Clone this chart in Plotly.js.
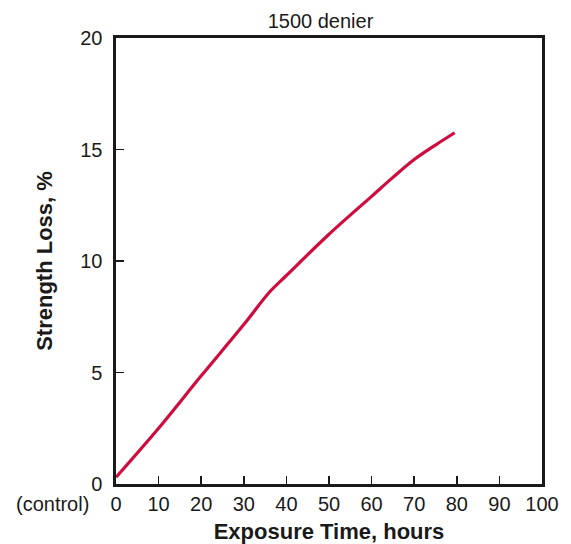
<!DOCTYPE html>
<html>
<head>
<meta charset="utf-8">
<script src="https://cdn.plot.ly/plotly-3.0.1.min.js"></script>
<style>html,body{margin:0;padding:0;background:#fff;}#chart{width:571px;height:544px;}</style>
</head>
<body>
<div id="chart"></div>
<script>
var exposureHours = [0, 10, 20, 30, 36, 40, 50, 60, 65, 70, 75, 79.5];
var strengthLoss = [0.3, 2.5, 4.85, 7.15, 8.6, 9.35, 11.2, 12.9, 13.75, 14.55, 15.2, 15.75];
var xTickVals = [0, 10, 20, 30, 40, 50, 60, 70, 80, 90, 100];
var yTickVals = [0, 5, 10, 15, 20];
var yTickText = ['0', '5', '10', '15', '20'];
var chartTitle = '1500 denier';
var xTitle = 'Exposure Time, hours';
var yTitle = 'Strength Loss, %';
var controlLabel = '(control)';

var font = '"Liberation Sans", Arial, Helvetica, sans-serif';

var trace = {
  x: exposureHours,
  y: strengthLoss,
  type: 'scatter',
  mode: 'lines',
  line: {color: '#cf0c3d', width: 3.2, shape: 'spline', smoothing: 0.9},
  hoverinfo: 'x+y'
};

var layout = {
  width: 571,
  height: 544,
  margin: {l: 116, r: 29, t: 38, b: 60, pad: 0},
  paper_bgcolor: '#ffffff',
  plot_bgcolor: '#ffffff',
  showlegend: false,
  font: {family: font, color: '#1a1a1a', size: 20},
  title: {
    text: chartTitle,
    font: {family: font, size: 20, color: '#1a1a1a'},
    x: 0.48, xref: 'paper', xanchor: 'center',
    y: 1 - 21 / 544, yref: 'container', yanchor: 'middle'
  },
  xaxis: {
    range: [0, 100],
    tickmode: 'array',
    tickvals: xTickVals,
    ticks: 'inside',
    ticklen: 8,
    tickwidth: 1.5,
    tickcolor: '#1a1a1a',
    showline: true,
    linecolor: '#1a1a1a',
    linewidth: 2.6,
    mirror: true,
    showgrid: false,
    zeroline: false,
    tickfont: {family: font, size: 20, color: '#1a1a1a'},
    ticklabelstandoff: 0,
    title: {text: xTitle, font: {family: font, size: 22, color: '#1a1a1a', weight: 'bold'}, standoff: 11}
  },
  yaxis: {
    range: [0, 20],
    tickmode: 'array',
    tickvals: yTickVals,
    ticktext: yTickText,
    ticks: 'inside',
    ticklen: 8,
    tickwidth: 1.5,
    tickcolor: '#1a1a1a',
    showline: true,
    linecolor: '#1a1a1a',
    linewidth: 2.6,
    mirror: true,
    showgrid: false,
    zeroline: false,
    tickfont: {family: font, size: 20, color: '#1a1a1a'},
    ticklabelstandoff: 7,
    title: {text: yTitle, font: {family: font, size: 22, color: '#1a1a1a', weight: 'bold'}, standoff: 22}
  },
  annotations: [{
    text: controlLabel,
    xref: 'paper', yref: 'y',
    x: -0.058, y: 0,
    xanchor: 'right', yanchor: 'middle',
    yshift: -20,
    showarrow: false,
    font: {family: font, size: 20, color: '#1a1a1a'}
  }]
};

Plotly.newPlot('chart', [trace], layout, {displayModeBar: false, staticPlot: true});
</script>
</body>
</html>
